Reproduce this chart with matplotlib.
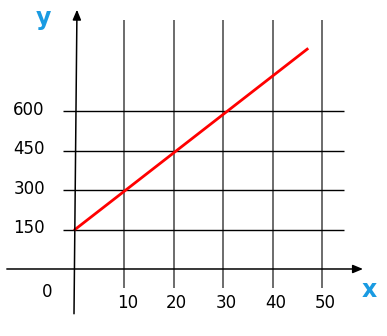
import matplotlib
matplotlib.use('Agg')
import matplotlib.pyplot as plt

# tick values along each axis
x_ticks = [10, 20, 30, 40, 50]
y_ticks = [150, 300, 450, 600]

# red line
line_x = [0, 47]
line_y = [150, 835]

axis_col = 'black'
grid_col = '#444444'
blue = '#1a9be2'

fig = plt.figure(figsize=(3.87, 3.36), dpi=100)
ax = fig.add_axes([0, 0, 1, 1])
ax.set_xlim(-15.18, 63.16)
ax.set_ylim(-254.5, 1021.7)
ax.axis('off')

# vertical grid lines
for xv in x_ticks:
    ax.plot([xv, xv], [-72, 946], color=grid_col, lw=1.1, solid_capstyle='butt')

# horizontal grid lines
for yv in y_ticks:
    ax.plot([-2.4, 54.5], [yv, yv], color=axis_col, lw=1.0, solid_capstyle='butt')

# axes with arrows
ax.annotate('', xy=(0.4, 985), xytext=(-0.2, -170),
            arrowprops=dict(arrowstyle='-|>,head_length=0.6,head_width=0.25',
                            color=axis_col, lw=1.1, shrinkA=0, shrinkB=0))
ax.annotate('', xy=(58.3, 0), xytext=(-13.8, 0),
            arrowprops=dict(arrowstyle='-|>,head_length=0.6,head_width=0.25',
                            color=axis_col, lw=1.1, shrinkA=0, shrinkB=0))

# the line
ax.plot(line_x, line_y, color='red', lw=2)

# labels
for yv in y_ticks:
    ax.text(-9.3, yv + 5, str(yv), ha='center', va='center', fontsize=12)
for xv in x_ticks:
    ax.text(xv + 0.6, -128, str(xv), ha='center', va='center', fontsize=12)
ax.text(-5.7, -87, '0', ha='center', va='center', fontsize=12)

ax.text(-6.3, 955, 'y', ha='center', va='center', fontsize=17,
        fontweight='bold', color=blue)
ax.text(59.5, -80, 'x', ha='center', va='center', fontsize=17,
        fontweight='bold', color=blue)

fig.savefig('out.png', dpi=100)
